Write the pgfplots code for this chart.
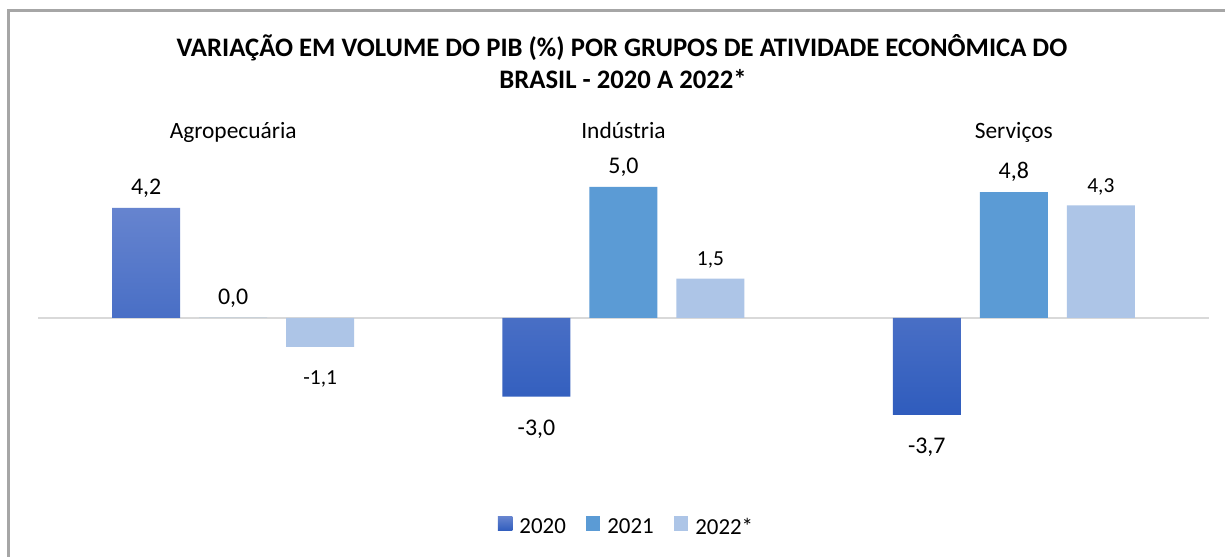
\documentclass[border=0pt]{standalone}
\usepackage{pgfplots}
\pgfplotsset{compat=1.18}
\usepackage{fontspec}
\setmainfont{Carlito}
\definecolor{cA}{RGB}{47,92,189}
\definecolor{cAt}{RGB}{102,132,207}
\definecolor{cB}{RGB}{91,155,213}
\definecolor{cC}{RGB}{173,197,231}
\definecolor{frameg}{RGB}{166,166,166}
\definecolor{zerog}{RGB}{217,217,217}
\begin{document}
\begin{tikzpicture}
\useasboundingbox (0,0) rectangle (1225bp,557bp);
\fill[white] (0,0) rectangle (1225bp,557bp);
\draw[frameg, line width=3bp] (8bp,-5bp) -- (8bp,546bp) -- (1240bp,546bp);
\node[font=\fontsize{26.8}{30}\selectfont\bfseries, anchor=base, inner sep=0pt] at (622bp,500.3bp) {VARIAÇÃO EM VOLUME DO PIB (\%) POR GRUPOS DE ATIVIDADE ECONÔMICA DO};
\node[font=\fontsize{26.8}{30}\selectfont\bfseries, anchor=base, inner sep=0pt] at (623bp,468.7bp) {BRASIL - 2020 A 2022*};
\begin{axis}[
  at={(38bp,108bp)}, anchor=south west,
  scale only axis, width=1171bp, height=288.2bp,
  xmin=-0.5, xmax=2.5, ymin=-5, ymax=6,
  ybar=19bp, bar width=68bp,
  axis line style={draw=none}, major tick length=0pt, ytick=\empty,
  xtick={0,1,2},
  xticklabels={Agropecuária,Indústria,Serviços},
  xticklabel pos=right,
  xticklabel style={anchor=base, yshift=22.3bp, font=\fontsize{23.5}{23.5}\selectfont},
  nodes near coords={\pgfmathprintnumber[fixed,fixed zerofill,precision=1,use comma,assume math mode=true]{\pgfplotspointmeta}},
  visualization depends on={y \as \rawy},
  every node near coord/.append style={font=\fontsize{24}{24}\selectfont, text=black, yshift={\rawy<0 ? -20 : 7}},
  legend columns=3,
  legend style={at={(0.5026,-0.2706)}, anchor=center, draw=none, fill=none,
    font=\fontsize{23}{23}\selectfont,
    /tikz/every even column/.append style={column sep=18bp}},
  legend image code/.code={\draw[#1, draw=none] (0bp,-4bp) rectangle (14.5bp,10.5bp); \path (19.5bp,0bp);},
  clip=false,
]
\draw[zerog, line width=1.5bp] (axis cs:-0.5,0) -- (axis cs:2.5,0);
\addplot[draw=none, top color=cAt, bottom color=cA] coordinates {(0,4.2) (1,-3.0) (2,-3.7)};
\addplot[draw=none, fill=cB] coordinates {(0,0.0) (1,5.0) (2,4.8)};
\addplot[draw=none, fill=cC, every node near coord/.append style={font=\fontsize{21.5}{21.5}\selectfont}] coordinates {(0,-1.1) (1,1.5) (2,4.3)};
\legend{2020,2021,2022*}
\end{axis}
\end{tikzpicture}
\end{document}
